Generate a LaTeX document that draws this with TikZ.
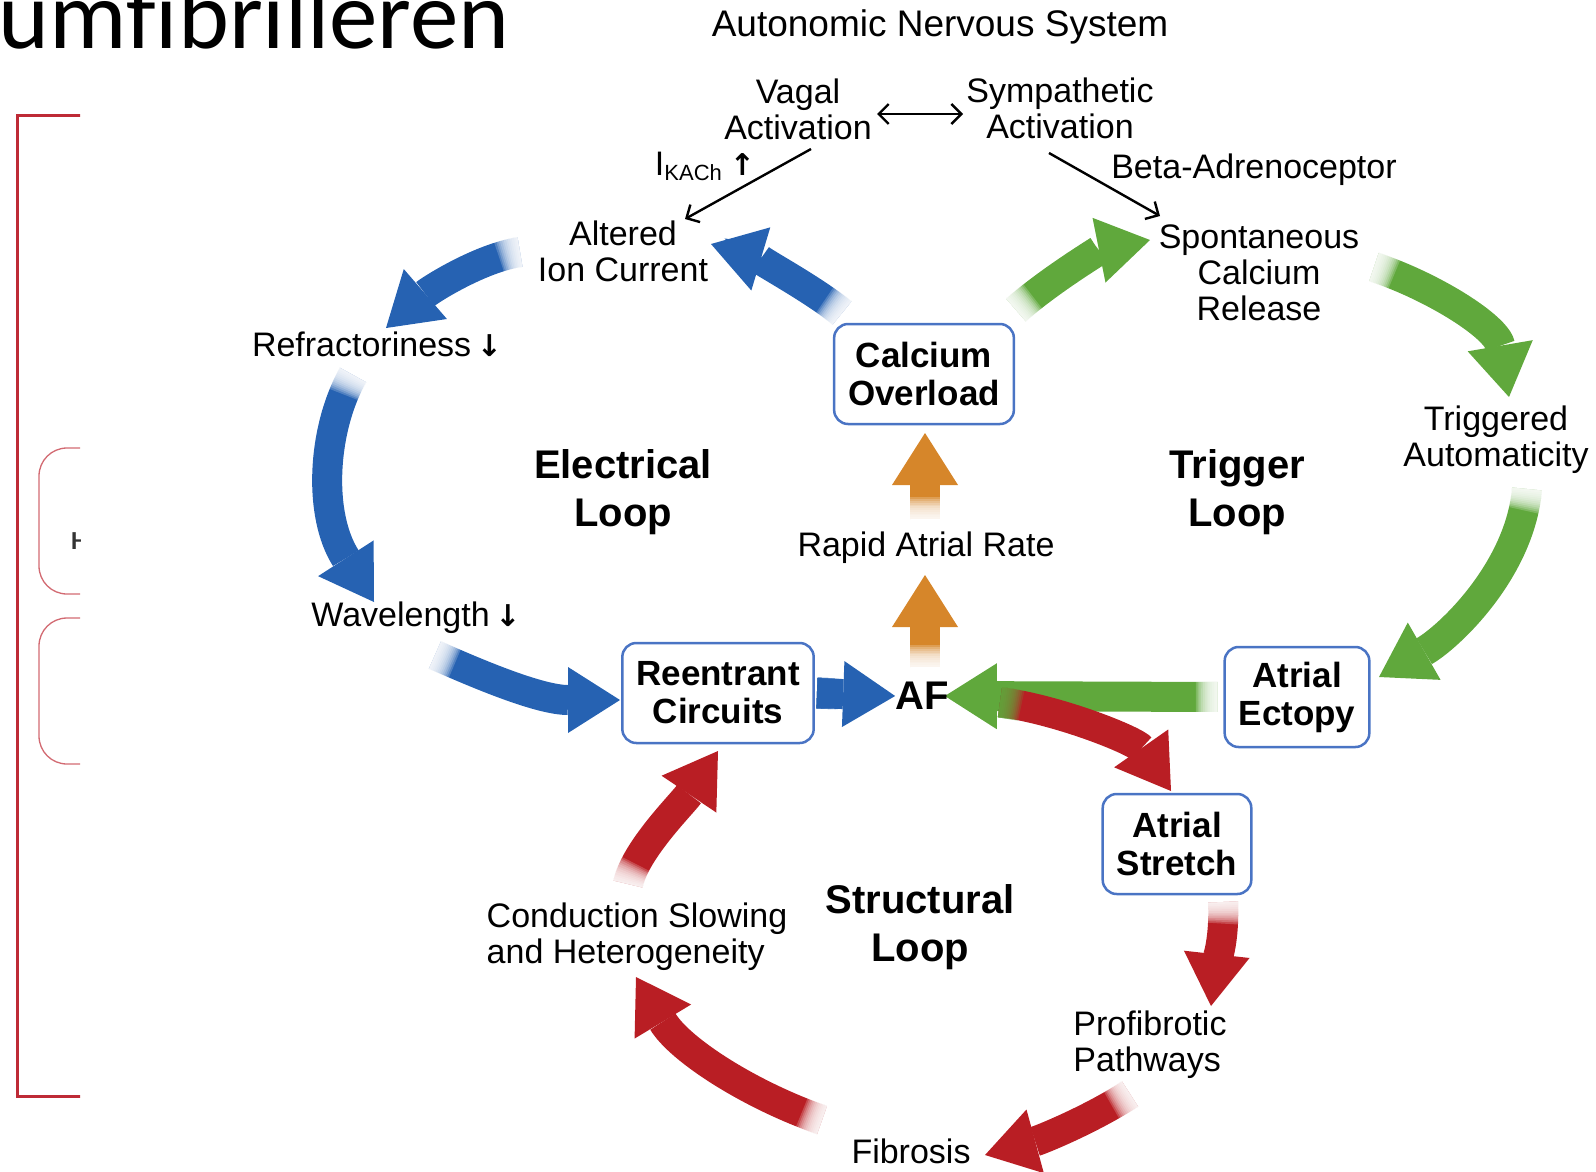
\documentclass[tikz,border=0pt]{standalone}
\usepackage{fontspec}
\setmainfont{Liberation Sans}
\newfontfamily\slidefont{Carlito}
\newfontfamily\arrowfont{DejaVu Sans}
\usetikzlibrary{arrows.meta,calc,backgrounds}

\definecolor{loopblue}{HTML}{2662B2}
\definecolor{loopgreen}{HTML}{60A83C}
\definecolor{loopred}{HTML}{B91E24}
\definecolor{looporange}{HTML}{D6862A}
\definecolor{boxblue}{HTML}{4A74C4}
\definecolor{slidered}{HTML}{BE2A36}

\newcommand{\lblfont}{\fontsize{34}{36}\selectfont}
\newcommand{\boxfont}{\fontsize{35}{38}\selectfont\bfseries}
\newcommand{\loopfont}{\fontsize{40}{48}\selectfont\bfseries}
\newcommand{\up}{{\arrowfont\bfseries\fontsize{30}{30}\selectfont ↑}}
\newcommand{\down}{{\arrowfont\bfseries\fontsize{30}{30}\selectfont ↓}}

% thick loop arrow with a tail that fades out
\newcommand{\loopflow}[4][white]{%
  \draw[flow, draw=#2, #3] #4;
  \foreach \k in {1,...,12}{%
    \pgfmathsetmacro{\dl}{1.8*\k}%
    \draw[line width=31pt, draw=#1, draw opacity=0.2, #3, dash pattern=on \dl pt off 5000pt] #4;}%
}

\begin{document}
\begin{tikzpicture}[x=1pt, y=-1pt, >={Straight Barb[length=10pt,width=20pt]}]
        \tikzset{flow/.style={line width=30pt, -{Triangle[width=66pt,length=52pt,line width=0pt]}}};
        \tikzset{nerve/.style={line width=2.4pt}};
        \tikzset{txt/.style={inner sep=0pt, align=center, font=\lblfont}};
        \tikzset{statebox/.style={draw=boxblue, line width=2.5pt, rounded corners=14pt, fill=white, inner sep=14pt, minimum height=100pt, align=center, font=\boxfont}};
        \tikzset{looplabel/.style={inner sep=0pt, align=center, font=\loopfont}};

        \useasboundingbox (0,0) rectangle (1596,1171);
        \clip (0,0) rectangle (1596,1171);

        % slide behind the figure
        \node [anchor=base east, inner sep=0pt, font=\slidefont\fontsize{97}{97}\selectfont] (slidetitle) at (510,48) {umf\kern0pt ibrilleren};
        \begin{scope}
            \clip (0,0) rectangle (80,1171);
            \draw [slidered, line width=3pt] (100,115) -| (17.5,1096) -- (100,1096);
            \draw [slidered!70, line width=1.3pt, rounded corners=28pt] (39,448) rectangle (160,594);
            \draw [slidered!70, line width=1.3pt, rounded corners=28pt] (39,618) rectangle (160,764);
            \node [anchor=west, inner sep=0pt, text=black!80, font=\slidefont\bfseries\fontsize{26}{26}\selectfont] (cuth) at (71,541) {H};
        \end{scope}

        \node [txt, font=\fontsize{37}{40}\selectfont] (ans) at (940,27) {Autonomic Nervous System};
        \node [txt] (vagal) at (798,109) {Vagal\\Activation};
        \node [txt] (symp) at (1060,108) {Sympathetic\\Activation};
        \node [txt] (kach) at (705,166) {I\raisebox{-5pt}{\fontsize{22}{22}\selectfont KACh}\hspace{8pt}\up};
        \node [txt] (beta) at (1254,170) {Beta-Adrenoceptor};
        \node [txt] (ion) at (623,251) {Altered\\Ion Current};
        \node [txt] (spont) at (1259,273) {Spontaneous\\Calcium\\Release};
        \node [txt] (refr) at (377,344) {Refractoriness\,\down};
        \node [statebox] (calc) at (924,374) {Calcium\\Overload};
        \node [looplabel] (elec) at (623,492) {Electrical\\Loop};
        \node [looplabel] (trig) at (1237,492) {Trigger\\Loop};
        \node [txt] (trga) at (1496,440) {Triggered\\Automaticity};
        \node [txt] (rapid) at (926,548) {Rapid Atrial Rate};
        \node [txt] (wave) at (416,618) {Wavelength\,\down};
        \node [statebox] (reent) at (718,693) {Reentrant\\Circuits};
        \node [txt, font=\fontsize{40}{40}\selectfont\bfseries] (af) at (922,696) {AF};
        \node [statebox] (ectopy) at (1297,697) {Atrial\\Ectopy};
        \node [statebox] (stretch) at (1177,844) {Atrial\\Stretch};
        \node [looplabel] (struct) at (920,927) {Structural\\Loop};
        \node [txt, align=left] (cond) at (637,937) {Conduction Slowing\\and Heterogeneity};
        \node [txt, align=left] (prof) at (1150,1045) {Profibrotic\\Pathways};
        \node [txt] (fib) at (911,1151) {Fibrosis};

        \draw [nerve,<->] ($(vagal)+(79,5)$) -- ($(symp)+(-97,6)$);
        \draw [nerve,->] ($(vagal)+(13,40)$) -- ($(ion)+(62,-32)$);
        \draw [nerve,->] ($(symp)+(-11,45)$) -- ($(spont)+(-99,-57)$);

        \begin{scope}[on background layer]
            % electrical loop
            \loopflow{loopblue}{}{($(calc)+(-82,-61)$) .. controls +(-30,-25) and +(40,12) .. ($(ion)+(88,-7)$)}
            \loopflow{loopblue}{}{($(ion)+(-103,1)$) .. controls +(-40,6) and +(44,-38) .. ($(refr)+(9,-16)$)}
            \loopflow{loopblue}{}{($(refr)+(-24,31)$) .. controls +(-31,55) and +(-56,-87) .. ($(wave)+(-42,-16)$)}
            \loopflow{loopblue}{}{($(wave)+(19,37)$) .. controls +(45,20) and +(-80,0) .. ($(reent)+(-98,7)$)}
            \loopflow[loopblue]{loopblue}{shorten <=2pt}{(reent.east) -- (af.west)}
            % trigger loop
            \loopflow{loopgreen}{}{($(calc)+(92,-64)$) .. controls +(34,-30) and +(-50,10) .. ($(spont)+(-109,-33)$)}
            \loopflow{loopgreen}{}{($(spont)+(115,-6)$) .. controls +(60,20) and +(-12,-70) .. ($(trga)+(13,-43)$)}
            \loopflow{loopgreen}{}{($(trga)+(31,49)$) .. controls +(-7,81) and +(70,-40) .. ($(ectopy)+(82,-20)$)}
            \loopflow{loopgreen}{shorten <=6pt, shorten >=-4pt}{(ectopy.west) -- (af.east)}
            % structural loop
            \loopflow[loopgreen]{loopred}{}{($(af)+(78,6)$) .. controls +(60,8) and +(-35,-50) .. ($(stretch)+(-6,-53)$)}
            \loopflow{loopred}{}{($(stretch)+(46,58)$) .. controls +(2,40) and +(4,-36) .. ($(prof)+(61,-39)$)}
            \loopflow{loopred}{}{($(prof)+(-20,49)$) .. controls +(-40,26) and +(55,-15) .. ($(fib)+(74,4)$)}
            \loopflow{loopred}{}{($(fib)+(-89,-31)$) .. controls +(-72,-25) and +(44,73) .. ($(cond)+(-1,40)$)}
            \loopflow{loopred}{}{($(cond)+(-9,-53)$) .. controls +(7,-34) and +(-35,52) .. ($(reent)+(0,58)$)}
            % rapid atrial rate
            \loopflow{looporange}{}{($(af)+(3,-29)$) -- ($(rapid)+(-1,27)$)}
            \loopflow{looporange}{}{($(rapid)+(-1,-29)$) -- ($(calc)+(1,59)$)}
        \end{scope}
    \end{tikzpicture}
\end{document}
